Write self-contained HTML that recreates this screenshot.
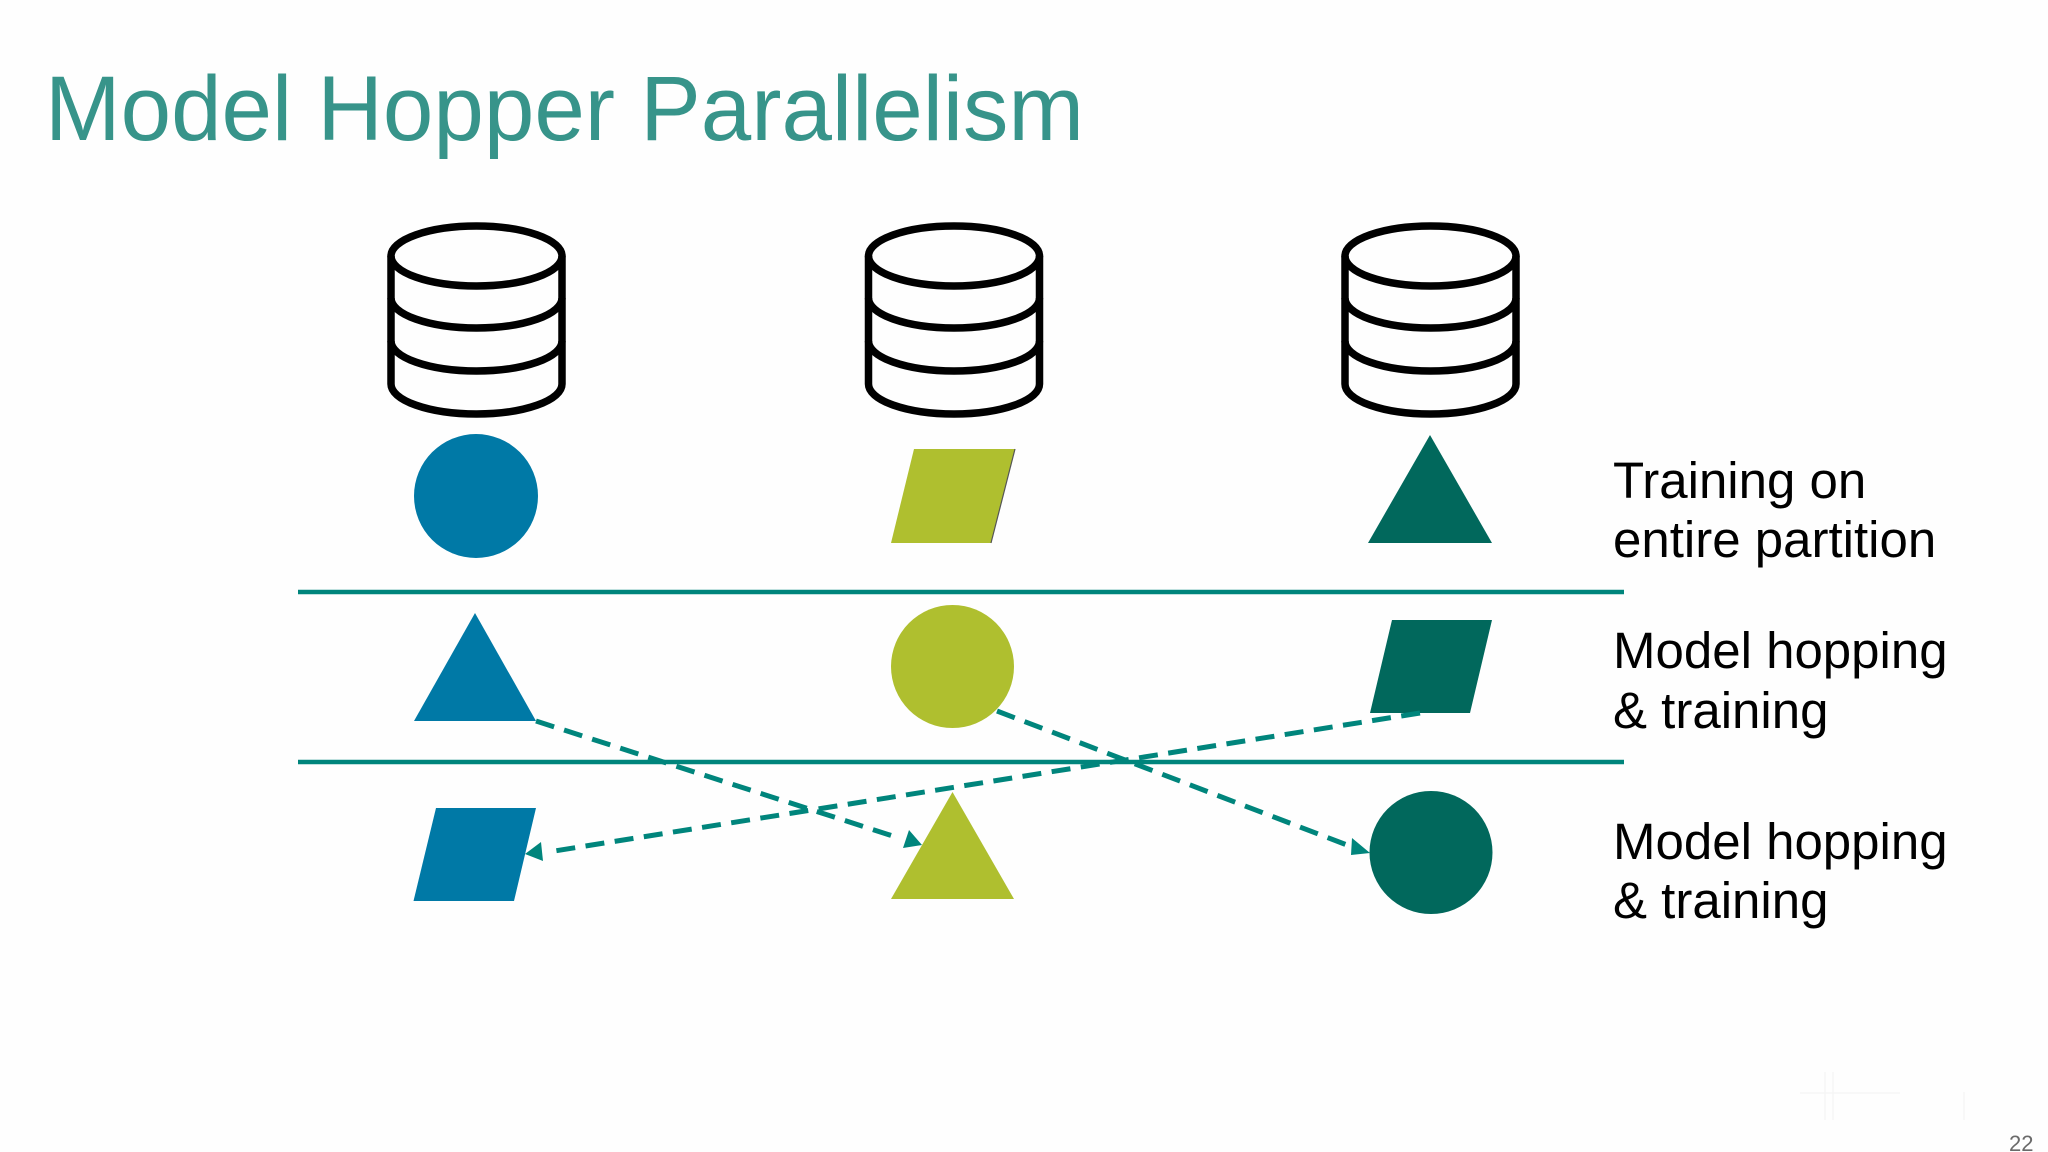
<!DOCTYPE html>
<html><head><meta charset="utf-8"><style>
html,body{margin:0;padding:0;background:#fefefe;width:2048px;height:1152px;overflow:hidden}
svg{display:block}
text{font-family:"Liberation Sans",sans-serif}
</style></head><body>
<svg width="2048" height="1152" viewBox="0 0 2048 1152" xmlns="http://www.w3.org/2000/svg">
<defs>
<g id="db" fill="none" stroke="#000" stroke-width="7.5">
<ellipse cx="476.5" cy="256" rx="85.5" ry="30"/>
<path d="M391 256V384A85.5 30 0 0 0 562 384V256"/>
<path d="M391 298A85.5 30 0 0 0 562 298"/>
<path d="M391 341A85.5 30 0 0 0 562 341"/>
</g>
</defs>
<rect width="2048" height="1152" fill="#fefefe"/>
<text x="45" y="140" font-size="92" fill="#37948a" textLength="1039" lengthAdjust="spacingAndGlyphs">Model Hopper Parallelism</text>
<use href="#db"/><use href="#db" x="477.5"/><use href="#db" x="954"/>
<circle cx="476" cy="496" r="62" fill="#0079a6"/>
<polygon points="914,449 1015,449 991,543 891,543" fill="#afbf2f"/>
<line x1="1015" y1="449" x2="991" y2="543" stroke="#555" stroke-width="1.2"/>
<polygon points="1430,435 1492,543 1368,543" fill="#01685c"/>
<polygon points="475,613 536,721 414,721" fill="#0079a6"/>
<circle cx="952.5" cy="666.5" r="61.5" fill="#afbf2f"/>
<polygon points="1392,620 1492,620 1470,713 1370,713" fill="#01685c"/>
<polygon points="436,808 536,808 514,901 413.5,901" fill="#0079a6"/>
<polygon points="952.5,792 1014,899 891,899" fill="#afbf2f"/>
<circle cx="1431" cy="852.5" r="61.5" fill="#01685c"/>
<g stroke="#00857c" stroke-width="4.5">
<line x1="298" y1="592" x2="1624" y2="592"/>
<line x1="298" y1="762" x2="1624" y2="762"/>
</g>
<g stroke="#00857c" stroke-width="5" stroke-dasharray="19 10.5" fill="none">
<line x1="536" y1="721" x2="896" y2="837"/>
<line x1="997" y1="711" x2="1347" y2="845"/>
<line x1="1420" y1="713" x2="548" y2="852"/>
</g>
<g fill="#00857c">
<polygon points="922,845 903,848 909,830"/>
<polygon points="1370,853 1351,855 1352,838"/>
<polygon points="525,854 541,842 543,861"/>
</g>
<g font-size="51" fill="#000">
<text x="1613" y="498">Training on</text>
<text x="1613" y="557">entire partition</text>
<text x="1613" y="668">Model hopping</text>
<text x="1613" y="728">&amp; training</text>
<text x="1613" y="859">Model hopping</text>
<text x="1613" y="918">&amp; training</text>
</g>
<g stroke="#f6f6f6" stroke-width="1.5" fill="none">
<line x1="1825" y1="1072" x2="1825" y2="1120"/>
<line x1="1833" y1="1072" x2="1833" y2="1120"/>
<line x1="1964" y1="1092" x2="1964" y2="1120"/>
<line x1="1800" y1="1093" x2="1900" y2="1093"/>
</g>
<text x="2009" y="1151" font-size="22" fill="#6a6a6a">22</text>
</svg>
</body></html>
